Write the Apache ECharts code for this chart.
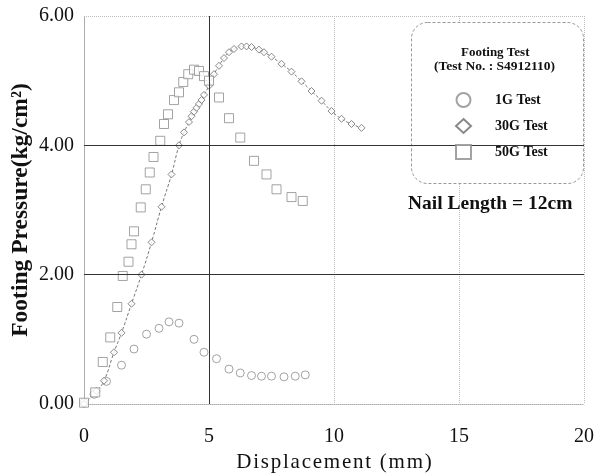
<!DOCTYPE html>
<html>
<head>
<meta charset="utf-8">
<script src="https://cdn.jsdelivr.net/npm/echarts@6/dist/echarts.min.js"></script>
<style>
  html, body { margin: 0; padding: 0; background: #fff; }
  #chart { width: 598px; height: 473px; }
</style>
</head>
<body>
<div id="chart"></div>
<script>
// 1G Test
var x1G = [0, 0.4, 0.9, 1.5, 2.0, 2.5, 3.0, 3.4, 3.8, 4.4, 4.8, 5.3, 5.8, 6.25, 6.7, 7.1, 7.5, 8.0, 8.45, 8.85];
var y1G = [0.02, 0.15, 0.35, 0.6, 0.85, 1.08, 1.17, 1.27, 1.25, 1.0, 0.8, 0.7, 0.54, 0.48, 0.44, 0.43, 0.43, 0.42, 0.43, 0.45];
// 30G Test
var x30G = [0, 0.5, 0.8, 1.2, 1.5, 1.9, 2.3, 2.7, 3.1, 3.5, 3.8, 4.0, 4.2, 4.3, 4.4, 4.5, 4.6, 4.7, 4.8, 5.0,
            5.2, 5.4, 5.6, 5.8, 6.0, 6.3, 6.5, 6.7, 7.0, 7.2, 7.5, 7.9, 8.3, 8.7, 9.1, 9.5, 9.9, 10.3, 10.7, 11.1];
var y30G = [0.0, 0.2, 0.36, 0.8, 1.1, 1.55, 2.0, 2.5, 3.05, 3.55, 4.0, 4.2, 4.36, 4.45, 4.52, 4.58, 4.64, 4.7, 4.78, 4.92,
            5.1, 5.23, 5.35, 5.44, 5.49, 5.53, 5.53, 5.52, 5.48, 5.44, 5.37, 5.26, 5.14, 4.99, 4.84, 4.69, 4.53, 4.41, 4.33, 4.27];
// 50G Test
var x50G = [0, 0.45, 0.75, 1.05, 1.33, 1.55, 1.78, 1.9, 2.0, 2.27, 2.47, 2.63, 2.78, 3.05, 3.2, 3.36, 3.6, 3.8, 3.97, 4.17,
            4.4, 4.6, 4.8, 5.0, 5.4, 5.8, 6.25, 6.8, 7.3, 7.7, 8.3, 8.75];
var y50G = [0.02, 0.18, 0.65, 1.03, 1.5, 1.98, 2.2, 2.47, 2.67, 3.04, 3.32, 3.58, 3.82, 4.07, 4.33, 4.48, 4.7, 4.82, 4.98, 5.1,
            5.17, 5.15, 5.07, 5.0, 4.74, 4.42, 4.12, 3.76, 3.55, 3.32, 3.2, 3.14];

var solidX = [5];
var solidY = [2, 4];

function pairs(xs, ys) {
    return xs.map(function (x, i) { return [x, ys[i]]; });
}

var serif = '"Liberation Serif", "DejaVu Serif", serif';
var markerGray = '#8c8c8c';
var hair = '\u200A';

var myChart = echarts.init(document.getElementById('chart'));

var option = {
    backgroundColor: '#fff',
    animation: false,
    textStyle: { fontFamily: serif, color: '#111' },
    grid: { left: 84, right: 14, top: 16, bottom: 69, outerBoundsMode: 'none' },
    xAxis: {
        type: 'value',
        min: 0, max: 20, interval: 5,
        name: 'Displacement (mm)'.split('').join(hair),
        nameLocation: 'middle',
        nameGap: 46,
        nameTextStyle: { fontFamily: serif, fontSize: 21, color: '#111' },
        axisLine: { lineStyle: { color: '#aaa', type: 'dotted' } },
        axisTick: { show: false },
        axisLabel: { fontFamily: serif, fontSize: 20, color: '#111', margin: 23 },
        splitLine: { show: true, lineStyle: { color: '#bbb', type: 'dotted' } }
    },
    yAxis: {
        type: 'value',
        min: 0, max: 6, interval: 2,
        name: 'Footing Pressure(kg/cm²)',
        nameLocation: 'middle',
        nameGap: 51,
        nameMoveOverlap: false,
        nameTextStyle: { fontFamily: serif, fontSize: 23.5, fontWeight: 'bold', color: '#111' },
        axisLine: { show: true, lineStyle: { color: '#aaa', type: 'dotted' } },
        axisTick: { show: false },
        axisLabel: {
            fontFamily: serif, fontSize: 20, color: '#111', margin: 10,
            formatter: function (v) { return v.toFixed(2); }
        },
        splitLine: { show: true, lineStyle: { color: '#bbb', type: 'dotted' } }
    },
    legend: {
        orient: 'vertical',
        left: 450,
        top: 87,
        itemGap: 10,
        itemWidth: 15,
        itemHeight: 14,
        z: 10,
        textStyle: { fontFamily: serif, fontSize: 14, fontWeight: 'bold', color: '#111', padding: [0, 0, 0, 19] },
        data: [
            { name: '1G Test', icon: 'circle' },
            { name: '30G Test', icon: 'diamond' },
            { name: '50G Test', icon: 'rect' }
        ]
    },
    graphic: [
        {
            type: 'rect',
            left: 411, top: 22,
            shape: { width: 172, height: 161, r: 16 },
            style: { fill: '#fff', stroke: '#999', lineWidth: 1, lineDash: [3, 2] },
            z: 5
        },
        {
            type: 'text', left: 461, top: 46, z: 6,
            style: { text: 'Footing Test', fontFamily: serif, fontSize: 13, fontWeight: 'bold', fill: '#111' }
        },
        {
            type: 'text', left: 434, top: 60, z: 6,
            style: { text: '(Test No. : S4912110)', fontFamily: serif, fontSize: 13.5, fontWeight: 'bold', fill: '#111' }
        },
        {
            type: 'text', left: 408, top: 194, z: 6,
            style: { text: 'Nail Length = 12cm', fontFamily: serif, fontSize: 19.5, fontWeight: 'bold', fill: '#111' }
        }
    ],
    series: [
        {
            name: 'grid-solid',
            type: 'line',
            data: [],
            silent: true,
            markLine: {
                silent: true,
                symbol: 'none',
                label: { show: false },
                lineStyle: { color: '#333', type: 'solid', width: 1 },
                data: solidX.map(function (v) { return { xAxis: v }; })
                    .concat(solidY.map(function (v) { return { yAxis: v }; }))
            },
            z: 1
        },
        {
            name: '30G line',
            type: 'line',
            data: pairs(x30G, y30G),
            showSymbol: false,
            smooth: true,
            silent: true,
            lineStyle: { color: '#777', width: 1, type: [3, 2] },
            z: 2
        },
        {
            name: '1G Test',
            type: 'scatter',
            data: pairs(x1G, y1G),
            symbol: 'circle',
            symbolSize: 8,
            itemStyle: { color: '#fff', borderColor: markerGray, borderWidth: 1 },
            z: 3
        },
        {
            name: '30G Test',
            type: 'scatter',
            data: pairs(x30G, y30G),
            symbol: 'diamond',
            symbolSize: 7,
            itemStyle: { color: '#fff', borderColor: '#6a6a6a', borderWidth: 1 },
            z: 3
        },
        {
            name: '50G Test',
            type: 'scatter',
            data: pairs(x50G, y50G),
            symbol: 'rect',
            symbolSize: 9,
            itemStyle: { color: '#fff', borderColor: markerGray, borderWidth: 1 },
            z: 3
        }
    ]
};

myChart.setOption(option);
</script>
</body>
</html>
